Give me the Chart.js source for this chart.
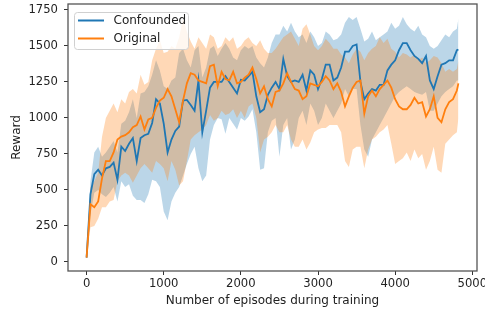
<!DOCTYPE html>
<html>
<head>
<meta charset="utf-8">
<script src="https://cdn.jsdelivr.net/npm/chart.js@4"></script>
<style>
html, body { margin: 0; padding: 0; background: #fff; }
#wrap { width: 485px; height: 312px; }
</style>
</head>
<body>
<div id="wrap"><canvas id="rewardChart"></canvas></div>
<script>
// episodes sampled every 50 along the x axis
const episodes = [
    0, 50, 100, 150, 200, 250, 300, 350, 400, 450,
    500, 550, 600, 650, 700, 750, 800, 850, 900, 950,
    1000, 1050, 1100, 1150, 1200, 1250, 1300, 1350, 1400, 1450,
    1500, 1550, 1600, 1650, 1700, 1750, 1800, 1850, 1900, 1950,
    2000, 2050, 2100, 2150, 2200, 2250, 2300, 2350, 2400, 2450,
    2500, 2550, 2600, 2650, 2700, 2750, 2800, 2850, 2900, 2950,
    3000, 3050, 3100, 3150, 3200, 3250, 3300, 3350, 3400, 3450,
    3500, 3550, 3600, 3650, 3700, 3750, 3800, 3850, 3900, 3950,
    4000, 4050, 4100, 4150, 4200, 4250, 4300, 4350, 4400, 4450,
    4500, 4550, 4600, 4650, 4700, 4750, 4800, 4820
];

const confounded = [
    30, 470, 610, 640, 600, 650, 660, 690, 570, 800,
    770, 820, 860, 700, 860, 880, 890, 965, 1130, 1100,
    960, 760, 850, 910, 940, 1120, 1125, 1090, 1050, 1260,
    900, 1050, 1210, 1250, 1250, 1250, 1290, 1250, 1210, 1170,
    1265, 1260, 1290, 1320, 1150, 1040, 1060, 1160, 1210, 1250,
    1200, 1410, 1290, 1250, 1260, 1250, 1300, 1190, 1330, 1300,
    1200, 1270, 1370, 1370, 1260, 1280, 1350, 1460, 1460, 1500,
    1510, 1250, 1130, 1170, 1200, 1190, 1230, 1230, 1330, 1370,
    1400, 1470, 1520, 1520, 1470, 1430, 1410, 1380, 1430, 1260,
    1200, 1290, 1370, 1380, 1400, 1400, 1470, 1475
];
const confoundedLo = [
    20, 330, 480, 500, 470, 450, 480, 520, 420, 560,
    520, 540, 460, 430, 430, 410, 470, 570, 560, 520,
    350, 290, 420, 480, 520, 600, 680, 750, 800, 650,
    560, 600, 850, 950, 1000, 990, 890, 1000, 960, 920,
    1000, 980, 1010, 1060, 900, 640, 650, 900, 980, 1000,
    730, 950, 1000, 780, 850, 1000, 1050, 950, 1100, 1050,
    950, 1000, 1100, 1050, 1000, 1050, 1100, 1200, 1150, 1200,
    1200, 950, 780, 730, 850, 900, 950, 1000, 1050, 1100,
    1150, 1180, 1200, 1220, 1200, 1180, 1170, 1160, 1180, 1050,
    1050, 1100, 1150, 1180, 1200, 1220, 1260, 1260
];
const confoundedHi = [
    40, 560, 760, 800, 730, 760, 800, 840, 760, 960,
    980, 1040, 1130, 1000, 1170, 1180, 1220, 1300, 1400, 1330,
    1220, 1200, 1260, 1280, 1450, 1480, 1400, 1350, 1470, 1500,
    1280, 1350, 1480, 1500, 1430, 1480, 1520, 1480, 1420, 1400,
    1470, 1500, 1480, 1500, 1420, 1380, 1350, 1420, 1520, 1580,
    1580, 1640, 1600, 1660, 1600, 1560, 1580, 1520, 1600, 1560,
    1500, 1520, 1600, 1580, 1540, 1550, 1580, 1660, 1700, 1680,
    1700, 1620, 1530, 1550, 1600, 1540, 1560, 1580, 1600, 1660,
    1620, 1640, 1700, 1650, 1620, 1600, 1640, 1580, 1560, 1500,
    1480, 1500, 1540, 1580, 1560, 1600, 1620, 1690
];

const original = [
    30, 400, 380, 420, 580, 700, 700, 760, 850, 870,
    880, 900, 935, 950, 1010, 920, 990, 1000, 1070, 1120,
    1140, 1200, 1150, 1060, 970, 1120, 1240, 1310, 1300, 1260,
    1250, 1240, 1360, 1370, 1220, 1320, 1270, 1260, 1320, 1240,
    1250, 1280, 1300, 1350, 1270, 1170, 1220, 1130, 1080, 1180,
    1190, 1240, 1310, 1250, 1200, 1190, 1130, 1150, 1240, 1230,
    1220, 1250, 1290, 1260, 1200, 1240, 1180, 1080, 1150, 1210,
    1250, 1260, 1030, 1150, 1190, 1150, 1200, 1230, 1260, 1210,
    1130, 1080, 1060, 1060, 1090, 1140, 1100, 1110, 1010, 1060,
    1150, 1000, 970, 1060, 1110, 1130, 1190, 1240
];
const originalLo = [
    25, 240, 250, 300, 380, 380, 420, 430, 560, 600,
    620, 600, 550, 600, 650, 680, 650, 620, 700, 680,
    650, 560, 700, 640, 530, 560, 700, 850, 880, 900,
    920, 950, 1020, 980, 1000, 1050, 1020, 1030, 1060, 1000,
    1050, 1000, 1080, 1100, 1000, 760, 850, 870, 900, 950,
    900, 900, 950, 850, 800, 800, 850, 780, 830, 900,
    920, 930, 930, 950, 950, 950, 900, 700, 660, 780,
    800, 800, 650, 780, 850, 870, 900, 920, 950, 820,
    680, 700, 720, 760, 700, 780, 720, 750, 640, 700,
    800, 640, 620, 820, 850, 880, 900, 1000
];
const originalHi = [
    45, 520, 560, 620, 870, 1000, 1050, 1100, 1040, 1130,
    1100, 1180, 1200, 1170, 1300, 1230, 1250, 1400, 1480, 1540,
    1450, 1460, 1500, 1480, 1560, 1690, 1600, 1530, 1480, 1560,
    1520, 1480, 1580, 1560, 1480, 1500, 1560, 1530, 1560, 1480,
    1500, 1540, 1560, 1520, 1500, 1540, 1480, 1450, 1450, 1480,
    1520, 1560, 1580, 1600, 1550, 1500, 1620, 1650, 1580, 1500,
    1470, 1500, 1550, 1520, 1480, 1480, 1440, 1420, 1380, 1440,
    1480, 1460, 1400, 1450, 1480, 1500, 1560, 1520, 1550, 1480,
    1460, 1420, 1450, 1440, 1420, 1440, 1400, 1420, 1380, 1400,
    1430, 1420, 1380, 1320, 1340, 1320, 1340, 1400
];

const xTicks = [0, 1000, 2000, 3000, 4000, 5000];
const yTicks = [0, 250, 500, 750, 1000, 1250, 1500, 1750];

const blue = '#1f77b4';
const orange = '#ff7f0e';

function points(ys) {
    return episodes.map((e, i) => ({x: e, y: ys[i]}));
}

function bandSet(ys, color, fill, order) {
    return {
        data: points(ys),
        borderWidth: 0,
        borderColor: 'transparent',
        backgroundColor: color,
        pointRadius: 0,
        fill: fill,
        order: order
    };
}

// spines on all four sides + matplotlib style legend box
const frame = {
    id: 'frame',
    afterDraw(chart) {
        const ctx = chart.ctx;
        const a = chart.chartArea;
        ctx.save();
        ctx.strokeStyle = '#555';
        ctx.lineWidth = 1.3;
        ctx.strokeRect(a.left, a.top, a.right - a.left, a.bottom - a.top);

        ctx.fillStyle = 'rgba(255,255,255,0.8)';
        ctx.strokeStyle = '#d0d0d0';
        ctx.lineWidth = 1;
        ctx.beginPath();
        ctx.roundRect(74.5, 12.5, 114, 37, 3);
        ctx.fill();
        ctx.stroke();

        const entries = [chart.data.datasets[0], chart.data.datasets[1]];
        ctx.font = '12px "DejaVu Sans"';
        ctx.textBaseline = 'middle';
        entries.forEach((ds, i) => {
            const y = 20.5 + i * 18;
            ctx.strokeStyle = ds.borderColor;
            ctx.lineWidth = 2;
            ctx.beginPath();
            ctx.moveTo(78, y);
            ctx.lineTo(104, y);
            ctx.stroke();
            ctx.fillStyle = '#222';
            ctx.fillText(ds.label, 113.5, y);
        });
        ctx.restore();
    }
};

Chart.defaults.font.family = '"DejaVu Sans", sans-serif';
Chart.defaults.color = '#222';

new Chart(document.getElementById('rewardChart'), {
    type: 'line',
    data: {
        datasets: [
            {label: 'Confounded', data: points(confounded), borderColor: blue, backgroundColor: blue,
             borderWidth: 1.8, pointRadius: 0, fill: false, order: 1},
            {label: 'Original', data: points(original), borderColor: orange, backgroundColor: orange,
             borderWidth: 1.8, pointRadius: 0, fill: false, order: 0},
            bandSet(confoundedHi, 'rgba(31,119,180,0.3)', '+1', 3),
            bandSet(confoundedLo, 'rgba(31,119,180,0.3)', false, 3),
            bandSet(originalHi, 'rgba(255,127,14,0.3)', '+1', 2),
            bandSet(originalLo, 'rgba(255,127,14,0.3)', false, 2)
        ]
    },
    options: {
        responsive: true,
        maintainAspectRatio: false,
        animation: false,
        devicePixelRatio: 1,
        layout: {padding: {top: 4, right: 8, left: 0, bottom: 0}},
        plugins: {
            legend: {display: false},
            tooltip: {enabled: false},
            filler: {drawTime: 'beforeDatasetsDraw'}
        },
        scales: {
            x: {
                type: 'linear',
                min: -241,
                max: 5061,
                afterFit: scale => {
                    scale.height = 41;
                    scale.paddingLeft = 0;
                    scale.paddingRight = 0;
                },
                afterBuildTicks: scale => { scale.ticks = xTicks.map(v => ({value: v})); },
                ticks: {
                    callback: v => String(v),
                    autoSkip: false,
                    maxRotation: 0,
                    padding: 2,
                    font: {size: 11.6}
                },
                grid: {drawOnChartArea: false, tickLength: 4, color: '#333'},
                border: {display: false},
                title: {
                    display: true,
                    text: 'Number of episodes during training',
                    font: {size: 12},
                    padding: {top: 0, bottom: 4}
                }
            },
            y: {
                min: -63,
                max: 1791,
                afterFit: scale => {
                    scale.width = 68;
                    scale.paddingTop = 0;
                    scale.paddingBottom = 0;
                },
                afterBuildTicks: scale => { scale.ticks = yTicks.map(v => ({value: v})); },
                ticks: {
                    callback: v => String(v),
                    autoSkip: false,
                    padding: 6,
                    font: {size: 11.6}
                },
                grid: {drawOnChartArea: false, tickLength: 4, color: '#333'},
                border: {display: false},
                title: {
                    display: true,
                    text: 'Reward',
                    font: {size: 12},
                    padding: {top: 10, bottom: 0}
                }
            }
        }
    },
    plugins: [frame]
});
</script>
</body>
</html>
